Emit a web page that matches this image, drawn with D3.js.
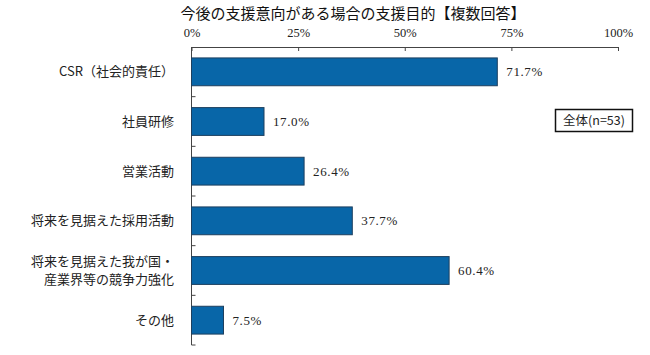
<!DOCTYPE html>
<html><head><meta charset="utf-8">
<script src="https://cdn.jsdelivr.net/npm/d3@7/dist/d3.min.js"></script>
<style>
html,body{margin:0;padding:0;background:#fff;}
svg{display:block;}
</style></head>
<body><svg id="c" width="650" height="355"></svg>
<script>
const title = "今後の支援意向がある場合の支援目的【複数回答】";
const categories = ["CSR（社会的責任）","社員研修","営業活動","将来を見据えた採用活動","将来を見据えた我が国・\n産業界等の競争力強化","その他"];
const values = [71.7, 17.0, 26.4, 37.7, 60.4, 7.5];
const tickValues = [0, 25, 50, 75, 100];
const legendLabel = "全体(n=53)";

const svg = d3.select("#c");
const serif = "'Liberation Serif','Noto Sans CJK JP',serif";
const jp = "'Noto Sans CJK JP','Liberation Serif',sans-serif";
const axisColor = "#444";

const x = d3.scaleLinear().domain([0,100]).range([191.5,618]);
const y = d3.scaleBand().domain(categories).range([47,345]).paddingInner(0.44).paddingOuter(0.22);

svg.append("text").attr("x",353).attr("y",19).attr("text-anchor","middle")
  .attr("font-family",jp).attr("font-size",15).attr("fill","#111").text(title);

// top axis
const ax = svg.append("g").attr("transform",`translate(0,${47})`)
  .call(d3.axisTop(x).tickValues(tickValues).tickSizeInner(-4).tickSizeOuter(0).tickPadding(10).tickFormat(d=>d+"%"));
ax.select(".domain").attr("stroke",axisColor);
ax.selectAll(".tick line").attr("stroke",axisColor);
ax.selectAll(".tick text").attr("font-family",serif).attr("font-size",12.5).attr("fill","#222");

// left axis
const step = y.step();
const bounds = categories.map(c => y(c) + y.bandwidth() + step*0.22);
svg.append("line").attr("x1",x(0)).attr("x2",x(0)).attr("y1",47).attr("y2",345).attr("stroke",axisColor);
svg.append("g").selectAll("line").data(bounds).join("line")
  .attr("x1",x(0)).attr("x2",x(0)+4).attr("y1",d=>d).attr("y2",d=>d).attr("stroke",axisColor);

// bars
svg.append("g").selectAll("rect").data(values).join("rect")
  .attr("x",x(0)).attr("y",(d,i)=>y(categories[i]))
  .attr("width",d=>x(d)-x(0)).attr("height",y.bandwidth())
  .attr("fill","#0866a8").attr("stroke","#1d3f5e").attr("stroke-width",1);

// value labels
svg.append("g").selectAll("text").data(values).join("text")
  .attr("x",d=>x(d)+9).attr("y",(d,i)=>y(categories[i])+y.bandwidth()/2+4.5)
  .attr("font-family",serif).attr("font-size",13).attr("letter-spacing",0.6).attr("fill","#222")
  .text(d=>d.toFixed(1)+"%");

// category labels
const lab = svg.append("g");
categories.forEach(c=>{
  const lines = c.split("\n");
  const cy = y(c)+y.bandwidth()/2;
  const t = lab.append("text").attr("text-anchor","end").attr("font-family",jp)
    .attr("font-size",13).attr("fill","#222");
  lines.forEach((l,k)=>{
    t.append("tspan").attr("x",174).attr("y",cy + 4.5 + (k-(lines.length-1)/2)*18).text(l);
  });
});

// legend box
const lg = svg.append("g");
lg.append("rect").attr("x",555.5).attr("y",109.5).attr("width",77).attr("height",22)
  .attr("fill","#fff").attr("stroke","#111").attr("stroke-width",1.5);
lg.append("text").attr("x",594).attr("y",125).attr("text-anchor","middle")
  .attr("font-family",jp).attr("font-size",12.5).attr("fill","#222").text(legendLabel);
</script></body></html>
